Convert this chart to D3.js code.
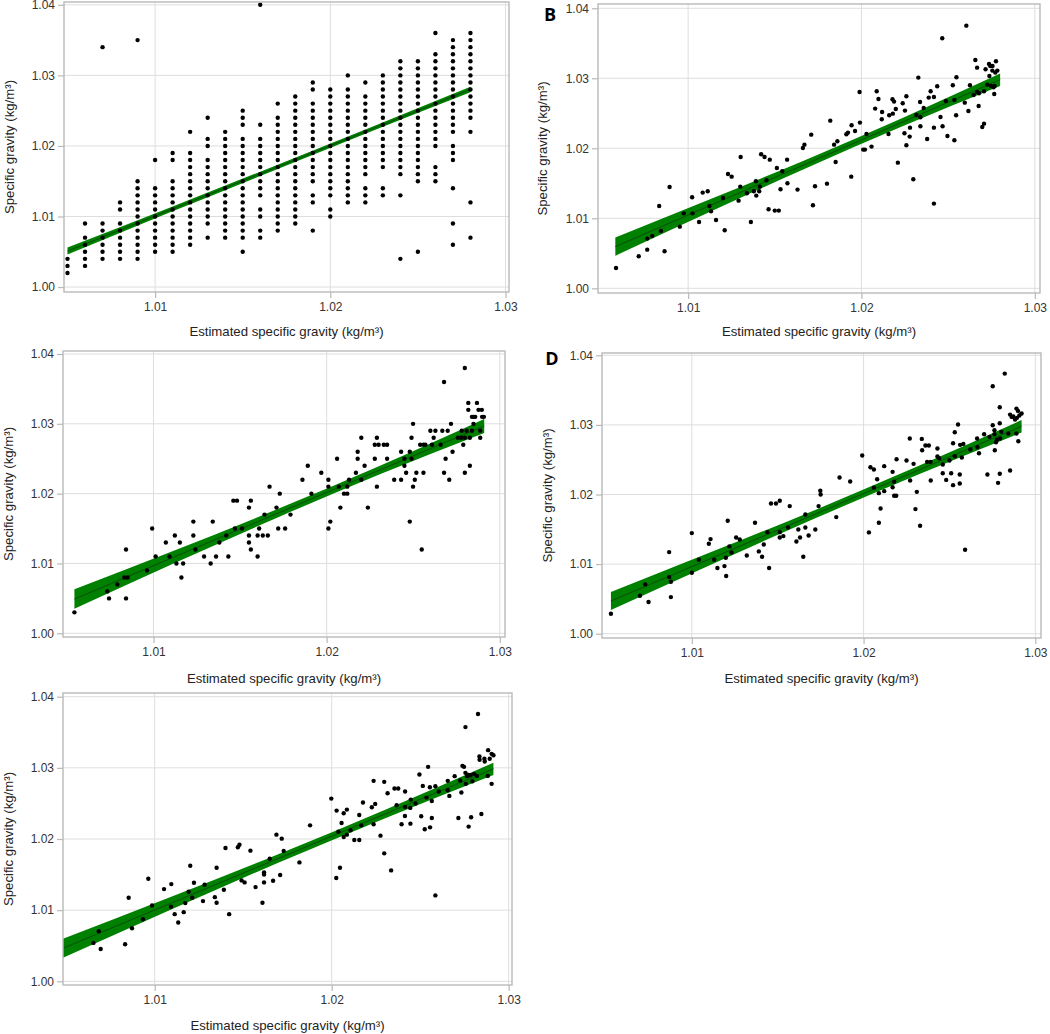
<!DOCTYPE html>
<html>
<head>
<meta charset="utf-8">
<script src="https://cdn.jsdelivr.net/npm/d3@7"></script>
<style>
  body { margin: 0; background: #fff; }
  text { font-family: "Liberation Sans", Arial, sans-serif; }
</style>
</head>
<body>
<svg id="chart" width="1050" height="1034"></svg>
<script>
// ---- data ----

// panel A: measured values sit on a 0.001 grid, one column per estimate
const aX = [1.005, 1.006, 1.007, 1.008, 1.009, 1.010, 1.011, 1.012, 1.013, 1.014, 1.015, 1.016,
  1.017, 1.018, 1.019, 1.020, 1.021, 1.022, 1.023, 1.024, 1.025, 1.026, 1.027, 1.028];
// measured specific gravity per column, in thousandths above 1.000
const aY = [
  [2, 3, 4],
  [3, 4, 5, 6, 7, 9],
  [4, 5, 6, 7, 8, 9, 34],
  [4, 5, 6, 7, 8, 9, 11, 12],
  [4, 5, 6, 7, 8, 9, 10, 11, 12, 13, 14, 15, 35],
  [5, 6, 7, 8, 9, 10, 11, 12, 13, 14, 18],
  [5, 6, 7, 8, 9, 10, 11, 12, 13, 14, 15, 18, 19],
  [6, 7, 8, 9, 10, 11, 12, 13, 14, 15, 16, 17, 18, 19, 22],
  [7, 9, 10, 11, 12, 13, 14, 15, 16, 17, 18, 20, 21, 24],
  [7, 8, 9, 10, 11, 12, 13, 14, 15, 16, 17, 18, 19, 20, 21, 22],
  [5, 7, 8, 9, 10, 11, 12, 13, 14, 15, 16, 17, 18, 19, 20, 21, 23, 24, 25],
  [7, 8, 10, 11, 13, 14, 15, 16, 17, 18, 19, 20, 21, 23, 40],
  [8, 9, 10, 11, 12, 13, 14, 15, 16, 17, 18, 19, 20, 21, 22, 23, 24, 26],
  [9, 10, 11, 12, 13, 14, 15, 16, 17, 18, 19, 20, 21, 22, 23, 24, 25, 26, 27],
  [8, 12, 13, 15, 16, 17, 18, 19, 20, 21, 22, 23, 24, 25, 26, 28, 29],
  [10, 11, 13, 14, 15, 16, 17, 18, 19, 20, 21, 22, 23, 24, 25, 26, 27, 28],
  [12, 13, 14, 15, 16, 17, 18, 19, 20, 21, 22, 23, 24, 25, 26, 27, 28, 30],
  [12, 13, 14, 16, 17, 18, 19, 20, 21, 22, 23, 24, 25, 26, 27, 29],
  [13, 14, 17, 18, 19, 20, 21, 22, 23, 24, 25, 26, 27, 28, 29, 30],
  [4, 13, 16, 17, 18, 19, 20, 21, 22, 23, 24, 25, 26, 27, 28, 29, 30, 31, 32],
  [5, 15, 16, 17, 18, 19, 20, 21, 22, 23, 24, 25, 26, 27, 28, 29, 30, 31, 32],
  [15, 16, 17, 20, 21, 22, 23, 24, 25, 26, 27, 28, 29, 30, 31, 32, 33, 36],
  [6, 9, 14, 18, 19, 20, 22, 23, 24, 25, 26, 27, 28, 29, 30, 31, 32, 33, 34, 35],
  [7, 12, 22, 24, 25, 26, 27, 28, 29, 30, 31, 32, 33, 34, 35, 36]
];

// panels B-E: [estimated, measured]
const bPts = [[1.00584,1.0029],[1.00715,1.00457],[1.00764,1.00552],[1.00764,1.0071],[1.00793,1.00748],[1.00833,1.01176],[1.00843,1.00819],[1.00864,1.00529],[1.00893,1.01448],[1.00952,1.00881],[1.00975,1.01071],[1.01023,1.013],[1.01025,1.01071],[1.01063,1.00948],[1.01084,1.01367],[1.01113,1.01386],[1.01123,1.01176],[1.01132,1.011],[1.01161,1.00976],[1.01201,1.0129],[1.01211,1.00829],[1.0123,1.01633],[1.01251,1.01595],[1.01291,1.01252],[1.01301,1.01452],[1.01303,1.01876],[1.01339,1.01357],[1.01362,1.00948],[1.01379,1.01386],[1.01391,1.01529],[1.01393,1.01324],[1.0141,1.01386],[1.01414,1.01452],[1.01421,1.01914],[1.01441,1.01876],[1.01452,1.01543],[1.01464,1.01129],[1.01471,1.01838],[1.015,1.0111],[1.01512,1.01719],[1.01523,1.0111],[1.01533,1.01414],[1.01543,1.01671],[1.01571,1.01838],[1.01573,1.015],[1.01631,1.0141],[1.01662,1.02005],[1.01671,1.02052],[1.0171,1.02195],[1.0172,1.01186],[1.01732,1.01457],[1.01801,1.01495],[1.0182,1.02395],[1.01842,1.02052],[1.01851,1.01805],[1.01861,1.021],[1.01913,1.022],[1.01922,1.02224],[1.01941,1.01595],[1.01943,1.02329],[1.01963,1.02248],[1.01989,1.02805],[1.01991,1.02367],[1.0201,1.01981],[1.0202,1.01981],[1.02029,1.02205],[1.02058,1.02024],[1.02079,1.02567],[1.02088,1.02814],[1.02098,1.02705],[1.02117,1.02414],[1.02119,1.02519],[1.02156,1.02205],[1.0216,1.02471],[1.02179,1.027],[1.02181,1.02495],[1.02188,1.02667],[1.02198,1.02562],[1.0221,1.01795],[1.02238,1.02643],[1.02248,1.02214],[1.02251,1.02538],[1.02259,1.02743],[1.02259,1.02043],[1.02278,1.02167],[1.0228,1.02295],[1.02299,1.01557],[1.02317,1.02476],[1.02328,1.0301],[1.02338,1.02662],[1.0234,1.02443],[1.0234,1.02314],[1.02359,1.02576],[1.02379,1.02133],[1.02388,1.02724],[1.02399,1.02814],[1.02418,1.0121],[1.02418,1.02295],[1.02418,1.02733],[1.02437,1.02886],[1.02456,1.02448],[1.02466,1.03571],[1.02468,1.02314],[1.02487,1.02676],[1.02496,1.02176],[1.02527,1.029],[1.02536,1.0269],[1.02536,1.02114],[1.02546,1.02471],[1.02548,1.03014],[1.02596,1.02652],[1.02605,1.03752],[1.02617,1.02533],[1.02626,1.029],[1.02647,1.02762],[1.02657,1.03262],[1.02667,1.03152],[1.02667,1.02805],[1.02676,1.02605],[1.02678,1.02786],[1.02697,1.02305],[1.02707,1.02352],[1.02707,1.02814],[1.02716,1.03129],[1.02726,1.0291],[1.02736,1.03205],[1.02738,1.03033],[1.02743,1.03176],[1.02747,1.0289],[1.02755,1.0311],[1.02756,1.03176],[1.02762,1.02871],[1.02766,1.02776],[1.02772,1.03081],[1.02776,1.03243],[1.02784,1.0311],[1.02768,1.0289]];

const cPts = [[1.00543,1.003],[1.00733,1.006],[1.00743,1.005],[1.00791,1.007],[1.00841,1.012],[1.00831,1.008],[1.0085,1.008],[1.00841,1.005],[1.00962,1.009],[1.00992,1.015],[1.01012,1.011],[1.01071,1.013],[1.01092,1.011],[1.01123,1.014],[1.01132,1.01],[1.01152,1.013],[1.01161,1.008],[1.01171,1.01],[1.0123,1.016],[1.0123,1.014],[1.01242,1.012],[1.01292,1.011],[1.0133,1.01],[1.01342,1.016],[1.01361,1.011],[1.0138,1.013],[1.0142,1.014],[1.01432,1.011],[1.01461,1.019],[1.01482,1.019],[1.0147,1.015],[1.01511,1.015],[1.01551,1.018],[1.01562,1.019],[1.01551,1.014],[1.01551,1.013],[1.01562,1.012],[1.01601,1.011],[1.0161,1.015],[1.01601,1.014],[1.01631,1.014],[1.01641,1.017],[1.0166,1.014],[1.0167,1.021],[1.0171,1.018],[1.0172,1.015],[1.01729,1.02],[1.0176,1.015],[1.01791,1.017],[1.0186,1.022],[1.01891,1.024],[1.01912,1.02],[1.01969,1.023],[1.0201,1.022],[1.0201,1.021],[1.0201,1.015],[1.02021,1.016],[1.0206,1.025],[1.0207,1.021],[1.02079,1.018],[1.021,1.02],[1.02119,1.02],[1.02119,1.021],[1.02129,1.022],[1.02169,1.023],[1.02179,1.026],[1.02179,1.025],[1.022,1.028],[1.022,1.022],[1.02219,1.024],[1.02238,1.018],[1.02278,1.025],[1.02278,1.027],[1.0229,1.028],[1.023,1.027],[1.0229,1.021],[1.0233,1.027],[1.02349,1.027],[1.02349,1.025],[1.0239,1.022],[1.0243,1.022],[1.0243,1.026],[1.02449,1.024],[1.02449,1.025],[1.02459,1.023],[1.0248,1.026],[1.0248,1.016],[1.0249,1.028],[1.0249,1.025],[1.02499,1.03],[1.02499,1.021],[1.02509,1.022],[1.02518,1.023],[1.0254,1.027],[1.02549,1.012],[1.02559,1.027],[1.02559,1.023],[1.0257,1.027],[1.02599,1.029],[1.02608,1.027],[1.02618,1.028],[1.02628,1.029],[1.02658,1.027],[1.02668,1.029],[1.02678,1.036],[1.02678,1.023],[1.02687,1.025],[1.02699,1.029],[1.02708,1.022],[1.02718,1.03],[1.02727,1.026],[1.02758,1.028],[1.02777,1.028],[1.02789,1.027],[1.02798,1.038],[1.02798,1.028],[1.02798,1.023],[1.02808,1.029],[1.02818,1.033],[1.02818,1.032],[1.02827,1.028],[1.02827,1.024],[1.02839,1.031],[1.02839,1.029],[1.02848,1.031],[1.02848,1.03],[1.02858,1.031],[1.02868,1.033],[1.02877,1.032],[1.02887,1.029],[1.02887,1.028],[1.02896,1.032],[1.02898,1.031],[1.02908,1.031],[1.0278,1.029]];

const dPts = [[1.00529,1.00287],[1.00698,1.00545],[1.00729,1.00708],[1.00748,1.00455],[1.00868,1.01172],[1.00868,1.00813],[1.00878,1.00746],[1.00878,1.00526],[1.01,1.01445],[1.01,1.00876],[1.01041,1.01062],[1.01099,1.01292],[1.01109,1.01359],[1.0113,1.01062],[1.01149,1.00943],[1.0119,1.00971],[1.01198,1.01091],[1.012,1.00828],[1.01209,1.01622],[1.01219,1.01254],[1.01231,1.01167],[1.01258,1.01383],[1.01279,1.01354],[1.0132,1.01124],[1.01368,1.01593],[1.0139,1.01182],[1.01409,1.01105],[1.01419,1.01282],[1.0144,1.01459],[1.0145,1.00943],[1.01461,1.01871],[1.0149,1.01871],[1.01512,1.01909],[1.01512,1.01459],[1.01512,1.01383],[1.01533,1.01402],[1.0156,1.01526],[1.0157,1.01833],[1.01609,1.01325],[1.0162,1.01498],[1.0163,1.01383],[1.01649,1.01105],[1.01661,1.01713],[1.01661,1.01526],[1.0168,1.01411],[1.01719,1.01498],[1.01738,1.01833],[1.01748,1.02053],[1.0175,1.02],[1.01841,1.01675],[1.0186,1.02244],[1.01922,1.02187],[1.01992,1.0256],[1.02031,1.01455],[1.0204,1.02392],[1.0206,1.02359],[1.0206,1.02096],[1.02079,1.0222],[1.02089,1.02019],[1.02089,1.01593],[1.02099,1.01799],[1.0212,1.02048],[1.0212,1.02407],[1.02169,1.02325],[1.02169,1.02105],[1.02178,1.02182],[1.02178,1.01981],[1.0219,1.01981],[1.02192,1.02507],[1.0225,1.02488],[1.02269,1.02804],[1.02271,1.02201],[1.02291,1.0244],[1.02302,1.0179],[1.0231,1.02038],[1.02329,1.0155],[1.02339,1.02799],[1.02341,1.02636],[1.0236,1.02703],[1.0237,1.02469],[1.0238,1.02703],[1.0239,1.02469],[1.02391,1.02201],[1.0243,1.0266],[1.0243,1.02545],[1.0244,1.02521],[1.02461,1.0243],[1.02461,1.02306],[1.02481,1.0221],[1.025,1.02488],[1.0251,1.02306],[1.02521,1.02737],[1.02521,1.02134],[1.02531,1.02895],[1.02531,1.0255],[1.0255,1.03005],[1.0256,1.02287],[1.0256,1.02158],[1.02562,1.02713],[1.02572,1.02531],[1.02581,1.02727],[1.02591,1.01206],[1.02622,1.02646],[1.02661,1.02804],[1.02663,1.02679],[1.02672,1.02593],[1.02702,1.02866],[1.02721,1.02287],[1.02733,1.02828],[1.02752,1.03555],[1.02752,1.02995],[1.02762,1.02923],[1.02762,1.02866],[1.02764,1.02636],[1.02771,1.02751],[1.02777,1.02789],[1.02783,1.02167],[1.02793,1.03254],[1.02793,1.03024],[1.02793,1.02297],[1.02795,1.02804],[1.02802,1.029],[1.02822,1.03737],[1.02843,1.02876],[1.02853,1.02344],[1.02853,1.03148],[1.02862,1.03115],[1.02872,1.0312],[1.02882,1.03077],[1.0289,1.03234],[1.0289,1.02876],[1.02893,1.03101],[1.02899,1.03201],[1.02901,1.02766],[1.02907,1.03134],[1.0292,1.03163]];

const ePts = [[1.00654,1.0054],[1.00684,1.00704],[1.00695,1.00455],[1.00833,1.00521],[1.00853,1.01174],[1.00872,1.00746],[1.00934,1.00873],[1.00964,1.01441],[1.00985,1.01066],[1.01053,1.01296],[1.01092,1.01047],[1.01094,1.01366],[1.01113,1.00944],[1.01133,1.00826],[1.01164,1.00972],[1.01173,1.01099],[1.01192,1.01258],[1.01201,1.01624],[1.01212,1.01174],[1.01222,1.01385],[1.01273,1.01127],[1.01282,1.01357],[1.0134,1.01183],[1.0135,1.01103],[1.0135,1.01596],[1.01391,1.01286],[1.014,1.01873],[1.01421,1.00944],[1.0147,1.01883],[1.01479,1.0192],[1.01491,1.01418],[1.01508,1.0139],[1.01541,1.01836],[1.0157,1.01324],[1.01609,1.01103],[1.01618,1.01531],[1.01618,1.01502],[1.01618,1.0139],[1.0165,1.01723],[1.01669,1.01413],[1.01688,1.02061],[1.01709,1.01493],[1.01718,1.02005],[1.01729,1.01831],[1.01818,1.01671],[1.01878,1.02192],[1.01998,1.02568],[1.02026,1.01451],[1.02028,1.02399],[1.02038,1.02103],[1.02047,1.01596],[1.02056,1.02225],[1.02068,1.02362],[1.02068,1.02028],[1.02086,1.02413],[1.02086,1.02061],[1.02107,1.02122],[1.02128,1.01986],[1.02156,1.02338],[1.02156,1.01986],[1.02167,1.02192],[1.02177,1.02512],[1.02227,1.02446],[1.02237,1.02817],[1.02237,1.02207],[1.02246,1.02493],[1.02276,1.02047],[1.02297,1.01798],[1.02297,1.02803],[1.02316,1.02643],[1.02336,1.01559],[1.02355,1.02709],[1.02367,1.02474],[1.02376,1.02709],[1.02395,1.02207],[1.02414,1.02324],[1.02415,1.02667],[1.02415,1.02451],[1.02444,1.02437],[1.02445,1.02216],[1.02447,1.02554],[1.02474,1.02498],[1.02496,1.02906],[1.02506,1.02319],[1.02515,1.02746],[1.02526,1.02136],[1.02536,1.02582],[1.02545,1.03014],[1.02555,1.02728],[1.02556,1.02164],[1.02566,1.02535],[1.02566,1.02296],[1.02586,1.01207],[1.02586,1.02742],[1.02605,1.02667],[1.02656,1.02685],[1.02656,1.02817],[1.02665,1.02606],[1.02695,1.02883],[1.02716,1.02296],[1.02726,1.02822],[1.02733,1.02653],[1.02739,1.03028],[1.02748,1.03014],[1.02756,1.03573],[1.02756,1.0293],[1.02758,1.02775],[1.02765,1.02883],[1.02773,1.02901],[1.02774,1.02174],[1.02784,1.02897],[1.02788,1.02305],[1.02795,1.02812],[1.02805,1.02916],[1.02827,1.03756],[1.02835,1.0316],[1.02836,1.03113],[1.02846,1.02352],[1.02863,1.03127],[1.02865,1.03089],[1.02882,1.02887],[1.02884,1.03249],[1.02893,1.03127],[1.02904,1.03197],[1.02904,1.02775],[1.02914,1.03178],[1.02821,1.02887]];

// fitted line and 95% band per panel, read at five points each
const aFitX = [1.005, 1.01075, 1.0165, 1.02225, 1.028];
const aFit  = [1.0051, 1.01083, 1.01655, 1.02228, 1.0280];
const aLo   = [1.0046, 1.01048, 1.01625, 1.02198, 1.0276];
const aHi   = [1.0056, 1.01118, 1.01685, 1.02258, 1.0284];

const bFitX = [1.0058, 1.0113, 1.0168, 1.0224, 1.0280];
const bFit  = [1.00595, 1.01186, 1.01776, 1.02378, 1.0298];
const bLo   = [1.00465, 1.01096, 1.01716, 1.02318, 1.0289];
const bHi   = [1.00725, 1.01276, 1.01836, 1.02438, 1.0307];

const cFitX = [1.00543, 1.01135, 1.01727, 1.02318, 1.0291];
const cFit  = [1.0049, 1.0111, 1.0173, 1.0235, 1.0297];
const cLo   = [1.0035, 1.0102, 1.0167, 1.0229, 1.0287];
const cHi   = [1.0063, 1.0120, 1.0179, 1.0241, 1.0307];

const dFitX = [1.00529, 1.01127, 1.01725, 1.02322, 1.0292];
const dFit  = [1.00469, 1.01097, 1.01725, 1.02352, 1.0298];
const dLo   = [1.00339, 1.01007, 1.01665, 1.02292, 1.0289];
const dHi   = [1.00599, 1.01187, 1.01785, 1.02412, 1.0307];

const eFitX = [1.00482, 1.0109, 1.01698, 1.02306, 1.02914];
const eFit  = [1.00465, 1.01095, 1.01726, 1.02356, 1.02986];
const eLo   = [1.00331, 1.01005, 1.01666, 1.02296, 1.02901];
const eHi   = [1.00599, 1.01185, 1.01786, 1.02416, 1.03071];

const xTicks = [1.01, 1.02, 1.03];
const yTicks = [1.00, 1.01, 1.02, 1.03, 1.04];
const xTitle = "Estimated specific gravity (kg/m³)";
const yTitle = "Specific gravity (kg/m³)";

// flatten panel A columns into points
const aPts = [];
aX.forEach(function (x, i) {
  aY[i].forEach(function (v) { aPts.push([x, 1 + v / 1000]); });
});

function band(xs, fit, lo, hi) {
  return xs.map(function (x, i) { return { x: x, fit: fit[i], lo: lo[i], hi: hi[i] }; });
}

// panel frames
const panels = [
  { pts: aPts, band: band(aFitX, aFit, aLo, aHi), box: [64, 509, 2, 292],
    xd: [1.0048, 1.0302], yd: [0.9993, 1.0404], ylabX: 9, xlabY: 331, letter: null },
  { pts: bPts, band: band(bFitX, bFit, bLo, bHi), box: [598, 1040, 4, 293],
    xd: [1.0048, 1.0303], yd: [0.99933, 1.04061], ylabX: 542, xlabY: 331, letter: "B", lx: 550, ly: 14 },
  { pts: cPts, band: band(cFitX, cFit, cLo, cHi), box: [63, 505, 351, 637],
    xd: [1.00477, 1.0303], yd: [0.99947, 1.04043], ylabX: 8, xlabY: 678, letter: null },
  { pts: dPts, band: band(dFitX, dFit, dLo, dHi), box: [602, 1041, 353, 638],
    xd: [1.00477, 1.03033], yd: [0.99938, 1.04033], ylabX: 547, xlabY: 678, letter: "D", lx: 552, ly: 358 },
  { pts: ePts, band: band(eFitX, eFit, eLo, eHi), box: [63, 512, 693, 985],
    xd: [1.00482, 1.03019], yd: [0.99948, 1.04052], ylabX: 8, xlabY: 1025, letter: null }
];

const svg = d3.select("#chart");

panels.forEach(function (p) {
  const [left, right, top, bottom] = p.box;
  const x = d3.scaleLinear().domain(p.xd).range([left, right]);
  const y = d3.scaleLinear().domain(p.yd).range([bottom, top]);
  const g = svg.append("g");

  // grid
  g.selectAll(".gx").data(xTicks).enter().append("line")
    .attr("x1", d => x(d)).attr("x2", d => x(d))
    .attr("y1", top).attr("y2", bottom)
    .attr("stroke", "#dedede").attr("stroke-width", 1);
  g.selectAll(".gy").data(yTicks).enter().append("line")
    .attr("x1", left).attr("x2", right)
    .attr("y1", d => y(d)).attr("y2", d => y(d))
    .attr("stroke", "#dedede").attr("stroke-width", 1);

  // confidence band and fitted line
  g.append("path")
    .datum(p.band)
    .attr("fill", "#008000")
    .attr("d", d3.area().curve(d3.curveMonotoneX)
      .x(d => x(d.x)).y0(d => y(d.lo)).y1(d => y(d.hi)));
  g.append("path")
    .datum(p.band)
    .attr("fill", "none")
    .attr("stroke", "#0b4d0b")
    .attr("stroke-width", 1)
    .attr("d", d3.line().x(d => x(d.x)).y(d => y(d.fit)));

  // points
  g.selectAll("circle").data(p.pts).enter().append("circle")
    .attr("cx", d => x(d[0]))
    .attr("cy", d => y(d[1]))
    .attr("r", 2.2)
    .attr("fill", "#000");

  // frame
  g.append("rect")
    .attr("x", left).attr("y", top)
    .attr("width", right - left).attr("height", bottom - top)
    .attr("fill", "none").attr("stroke", "#b9b9b9").attr("stroke-width", 1.4);

  // axes
  const ax = g.append("g").attr("transform", `translate(0,${bottom})`)
    .call(d3.axisBottom(x).tickValues(xTicks).tickFormat(d3.format(".2f")).tickSize(6).tickPadding(4));
  const ay = g.append("g").attr("transform", `translate(${left},0)`)
    .call(d3.axisLeft(y).tickValues(yTicks).tickFormat(d3.format(".2f")).tickSize(6).tickPadding(3));
  [ax, ay].forEach(function (a) {
    a.select(".domain").remove();
    a.selectAll(".tick line").attr("stroke", "#b9b9b9").attr("stroke-width", 1.2);
    a.selectAll(".tick text").attr("fill", "#333").style("font-size", "12px")
      .style("font-family", '"Liberation Sans", Arial, sans-serif');
  });

  // axis titles
  g.append("text")
    .attr("x", (left + right) / 2).attr("y", p.xlabY)
    .attr("text-anchor", "middle").attr("dominant-baseline", "central")
    .attr("fill", "#222").style("font-size", "13.2px")
    .text(xTitle);
  g.append("text")
    .attr("transform", `translate(${p.ylabX},${(top + bottom) / 2}) rotate(-90)`)
    .attr("text-anchor", "middle").attr("dominant-baseline", "central")
    .attr("fill", "#222").style("font-size", "13.2px")
    .text(yTitle);

  if (p.letter) {
    g.append("text")
      .attr("x", p.lx).attr("y", p.ly)
      .attr("text-anchor", "middle").attr("dominant-baseline", "central")
      .attr("fill", "#000").style("font-size", "18px").style("font-weight", "bold")
      .style("font-family", '"Open Sans", "Liberation Sans", Arial, sans-serif')
      .text(p.letter);
  }
});
</script>
</body>
</html>
